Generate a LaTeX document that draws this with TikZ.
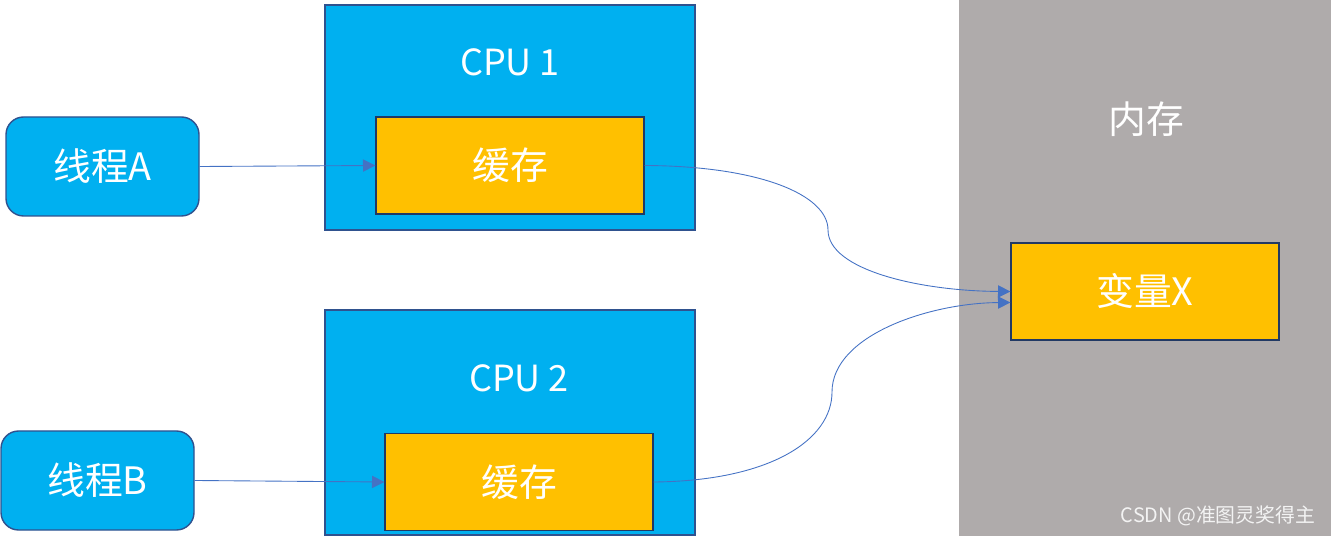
\documentclass[tikz,border=0pt]{standalone}
\usepackage{fontspec}
\setmainfont{Noto Sans CJK SC}
\usetikzlibrary{arrows.meta}

\definecolor{cpublue}{HTML}{00B0F0}
\definecolor{edgeblue}{HTML}{2F528F}
\definecolor{cacheyellow}{HTML}{FFC000}
\definecolor{memgray}{HTML}{AFABAB}
\definecolor{linkblue}{HTML}{4472C4}

\tikzset{
  thread/.style={draw=edgeblue, line width=0.8pt, fill=cpublue, rounded corners=10pt,
    minimum width=193*0.02cm, minimum height=99*0.02cm, text=white, font=\fontsize{21.5}{24}\selectfont},
  cpu/.style={draw=edgeblue, line width=0.8pt, fill=cpublue, minimum width=370*0.02cm, minimum height=225*0.02cm},
  cache/.style={draw=edgeblue!70!black, line width=0.8pt, fill=cacheyellow,
    minimum width=268*0.02cm, minimum height=97*0.02cm, text=white, font=\fontsize{21.5}{24}\selectfont},
  label/.style={text=white, font=\fontsize{20.5}{24}\selectfont},
  link/.style={draw=linkblue, line width=0.5pt, -{Triangle[length=7pt,width=7pt]}}
}

\begin{document}
\begin{tikzpicture}[x=0.02cm, y=-0.02cm]
  \useasboundingbox (0,0) rectangle (1331,536);
  % memory
  \fill[memgray] (959,0) rectangle (1331,536);
  \node[label, font=\fontsize{21.5}{24}\selectfont] (mem) at (1146,119) {内存};
  \node[cache] (varx) at (1145,291.5) {变量X};
  % cpus
  \node[cpu] (cpu1) at (510,117.5) {};
  \node[label] (cpu1label) at (510,62) {CPU 1};
  \node[cache] (cache1) at (510,165.5) {缓存};
  \node[cpu] (cpu2) at (510,422.5) {};
  \node[label] (cpu2label) at (519,378) {CPU 2};
  \node[cache] (cache2) at (519,482) {缓存};
  % threads
  \node[thread] (threadA) at (102.5,166.5) {线程A};
  \node[thread] (threadB) at (97.5,480.5) {线程B};
  % links
  \draw[link] (threadA.east) -- (cache1.west);
  \draw[link] (threadB.east) -- (cache2.west);
  \coordinate (bend1) at (828,230);
  \coordinate (bend2) at (832,392);
  \draw[link] (cache1.east) .. controls (760,166) and (828,195) .. (bend1)
    .. controls (828,270) and (920,291) .. (varx.west);
  \draw[link] (cache2.east) .. controls (770,481) and (832,440) .. (bend2)
    .. controls (832,335) and (930,303) .. ([yshift=-11*0.02cm]varx.west);
  % watermark
  \node[text=white!85!memgray, font=\fontsize{11.3}{13}\selectfont] (mark) at (1218,516) {CSDN @准图灵奖得主};
\end{tikzpicture}
\end{document}
